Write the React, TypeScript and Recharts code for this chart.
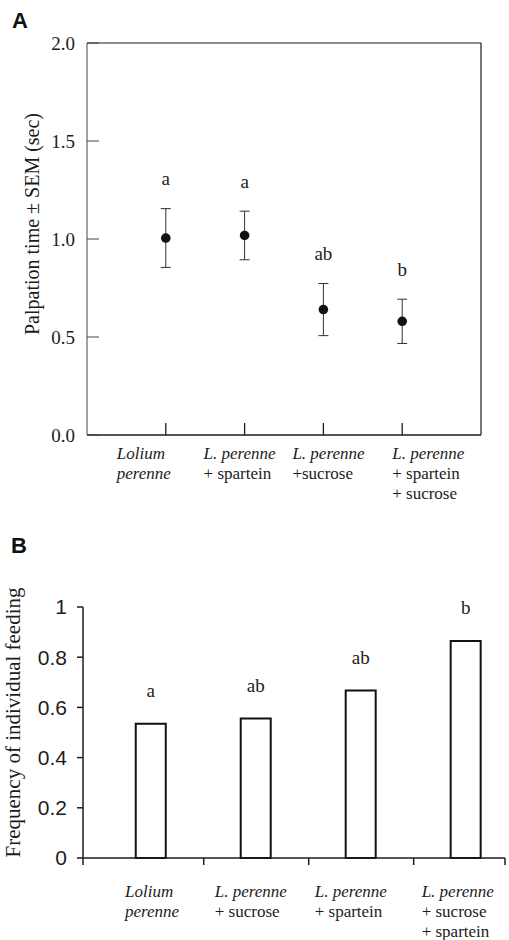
import React from "react";
import {
  Bar,
  BarChart,
  ErrorBar,
  LabelList,
  Scatter,
  ScatterChart,
  XAxis,
  YAxis,
} from "recharts";

// panel A: palpation time
const treatmentsA = [
  ["Lolium", "perenne"],
  ["L. perenne", "+ spartein"],
  ["L. perenne", "+sucrose"],
  ["L. perenne", "+ spartein", "+ sucrose"],
];
const palpationMean = [1.005, 1.018, 0.64, 0.58];
const palpationSem = [0.15, 0.124, 0.133, 0.113];
const lettersA = ["a", "a", "ab", "b"];
const yTicksA = [0, 0.5, 1, 1.5, 2];
const xTicksA = [1, 2, 3, 4];

// panel B: frequency of individual feeding
const treatmentsB = [
  ["Lolium", "perenne"],
  ["L. perenne", "+ sucrose"],
  ["L. perenne", "+ spartein"],
  ["L. perenne", "+ sucrose", "+ spartein"],
];
const feedingFreq = [0.535, 0.556, 0.667, 0.865];
const lettersB = ["a", "ab", "ab", "b"];
const yTicksB = [0, 0.2, 0.4, 0.6, 0.8, 1];
const xTicksB = [-0.65, 0.5, 1.5, 2.5, 3.37];

const serif = "'Liberation Serif', 'Times New Roman', serif";
const sans = "'Liberation Sans', Arial, sans-serif";
const ink = "#1c1c1c";

// label offsets (px) from the tick each treatment label hangs off
const labelShiftA = [-49, -41, -31, -10];
const labelShiftB = [42, 11, 6, 8];

const dataA = palpationMean.map((m, i) => ({
  pos: i + 1,
  mean: m,
  sem: palpationSem[i],
  upper: m + palpationSem[i],
  letter: lettersA[i],
}));

const dataB = feedingFreq.map((f, i) => ({
  pos: i,
  freq: f,
  letter: lettersB[i],
}));

const treatmentTick = (
  props: any,
  groups: string[][],
  shifts: number[],
  gap: number
) => {
  const { x, y, index } = props;
  const lines = groups[index];
  if (!lines) return <g />;
  return (
    <g>
      {lines.map((line, k) => (
        <text
          key={k}
          x={x + shifts[index]}
          y={y + k * gap}
          dy="0.35em"
          textAnchor="start"
          style={{ fontFamily: serif }}
          fontSize={17}
          fontStyle={line.startsWith("+") ? "normal" : "italic"}
          fill={ink}
        >
          {line}
        </text>
      ))}
    </g>
  );
};

const sideTitle = (text: string, cx: number, shift: number, size: number) => (props: any) => {
  const vb = props.viewBox || {};
  const cy = vb.y + vb.height / 2 + shift;
  return (
    <text
      x={cx}
      y={cy}
      transform={`rotate(-90, ${cx}, ${cy})`}
      textAnchor="middle"
      dominantBaseline="central"
      style={{ fontFamily: serif }}
      fontSize={size}
      fill={ink}
    >
      {text}
    </text>
  );
};

const Dot = (props: any) => <circle cx={props.cx} cy={props.cy} r={4.8} fill="#111" />;

const PanelA = () => (
  <ScatterChart width={509} height={520} margin={{ top: 42, right: 27, bottom: 0, left: 0 }}>
    <XAxis
      xAxisId="bottom"
      type="number"
      dataKey="pos"
      domain={[0, 5]}
      ticks={xTicksA}
      interval={0}
      height={85}
      tickSize={-12}
      tickMargin={30}
      stroke={ink}
      strokeWidth={1.3}
      tick={(p: any) => treatmentTick(p, treatmentsA, labelShiftA, 20)}
    />
    <XAxis
      xAxisId="top"
      orientation="top"
      type="number"
      domain={[0, 5]}
      ticks={xTicksA}
      interval={0}
      height={1}
      tickSize={-10}
      tick={false}
      stroke={ink}
      strokeWidth={1.2}
    />
    <YAxis
      yAxisId="left"
      type="number"
      domain={[0, 2]}
      ticks={yTicksA}
      interval={0}
      width={87}
      tickSize={-12}
      tickMargin={24}
      stroke="#444"
      tickFormatter={(v: number) => v.toFixed(1)}
      tick={{ style: { fontFamily: serif }, fontSize: 19, fill: ink }}
      label={sideTitle("Palpation time \u00b1 SEM (sec)", 32, -15, 20)}
    />
    <YAxis
      yAxisId="right"
      orientation="right"
      type="number"
      domain={[0, 2]}
      ticks={[0.5, 1, 1.5]}
      interval={0}
      width={1}
      tickSize={-12}
      tick={false}
      stroke={ink}
      strokeWidth={1.2}
    />
    <Scatter
      data={dataA}
      dataKey="mean"
      xAxisId="bottom"
      yAxisId="left"
      shape={Dot}
      isAnimationActive={false}
    >
      <ErrorBar dataKey="sem" direction="y" width={5} stroke="#333" strokeWidth={1} />
    </Scatter>
    <Scatter
      data={dataA}
      dataKey="upper"
      xAxisId="bottom"
      yAxisId="left"
      shape={() => <g />}
      isAnimationActive={false}
    >
      <LabelList
        dataKey="letter"
        content={(p: any) => (
          <text
            x={p.x + p.width / 2}
            y={p.y + p.height / 2 - 30}
            textAnchor="middle"
            dominantBaseline="central"
            style={{ fontFamily: serif }}
            fontSize={19}
            fill={ink}
          >
            {p.value}
          </text>
        )}
      />
    </Scatter>
  </ScatterChart>
);

const PanelB = () => (
  <BarChart width={509} height={380} data={dataB} margin={{ top: 47, right: 4, bottom: 0, left: 0 }}>
    <XAxis
      type="number"
      dataKey="pos"
      domain={[-0.65, 3.37]}
      ticks={xTicksB}
      interval={0}
      height={82}
      tickSize={7}
      tickMargin={26}
      stroke={ink}
      strokeWidth={1.5}
      tick={(p: any) => treatmentTick(p, treatmentsB, labelShiftB, 20)}
    />
    <YAxis
      type="number"
      domain={[0, 1]}
      ticks={yTicksB}
      interval={0}
      width={83}
      tickSize={6}
      tickMargin={10}
      stroke={ink}
      strokeWidth={1.5}
      tick={{ style: { fontFamily: sans }, fontSize: 21, fill: ink }}
      label={sideTitle("Frequency of individual feeding", 13, -10, 21)}
    />
    <Bar
      dataKey="freq"
      barSize={30}
      fill="#fff"
      stroke="#111"
      strokeWidth={2}
      isAnimationActive={false}
    >
      <LabelList
        dataKey="letter"
        content={(p: any) => (
          <text
            x={p.x + p.width / 2}
            y={p.y - 33}
            textAnchor="middle"
            dominantBaseline="central"
            style={{ fontFamily: serif }}
            fontSize={19}
            fill={ink}
          >
            {p.value}
          </text>
        )}
      />
    </Bar>
  </BarChart>
);

export default function App() {
  return (
    <div style={{ position: "absolute", left: 0, top: 0, width: 509, height: 940, background: "#fff" }}>
      <div style={{ position: "absolute", left: 0, top: 0 }}>
        <PanelA />
      </div>
      <div style={{ position: "absolute", left: 0, top: 560 }}>
        <PanelB />
      </div>
      <svg
        width={509}
        height={940}
        style={{ position: "absolute", left: 0, top: 0, pointerEvents: "none" }}
      >
        <text x={12} y={28} fontFamily={sans} fontWeight="bold" fontSize={22} fill="#111">
          A
        </text>
        <text x={11} y={553} fontFamily={sans} fontWeight="bold" fontSize={22} fill="#111">
          B
        </text>
      </svg>
    </div>
  );
}
